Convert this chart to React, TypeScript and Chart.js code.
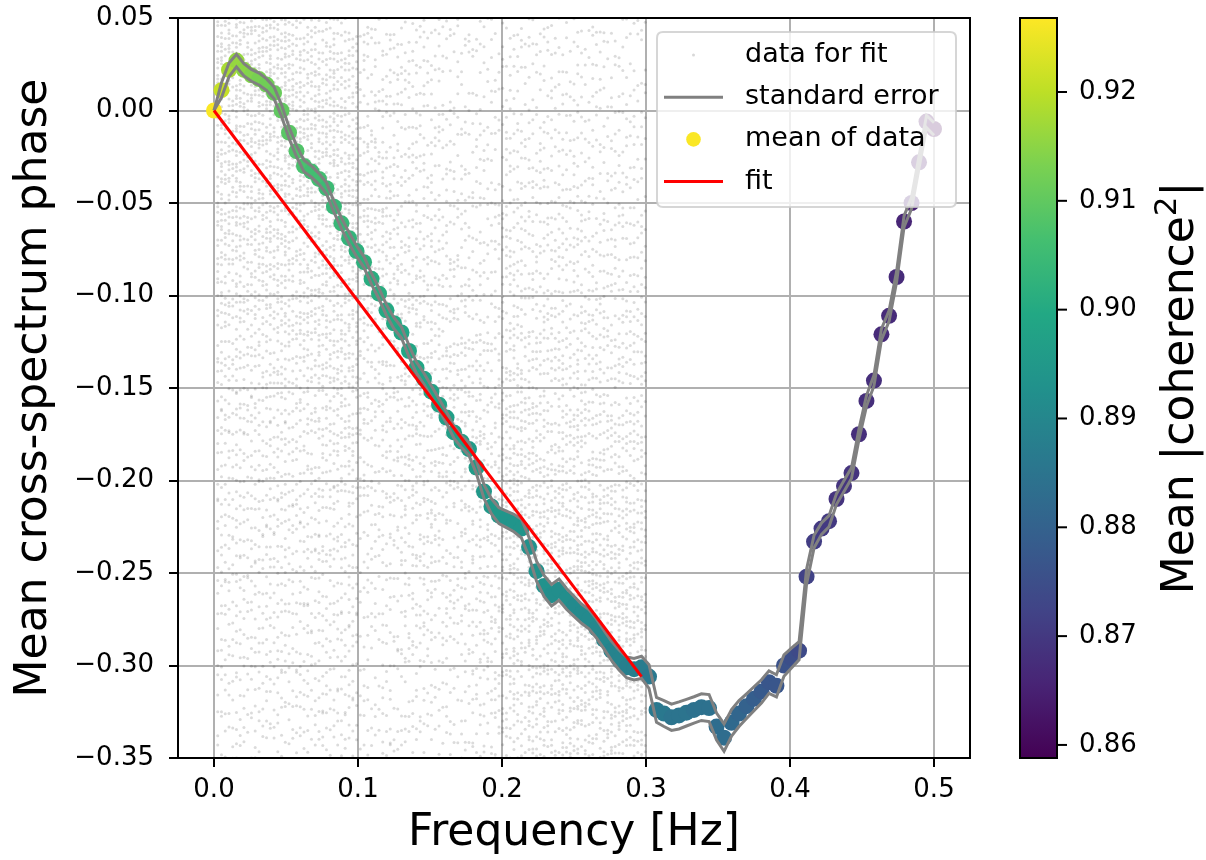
import React, { useEffect, useRef } from 'react';
import { Chart, registerables } from 'chart.js';

Chart.register(...registerables);

const FONT = '"DejaVu Sans", sans-serif';

// Frequency bins of the averaged spectrum [Hz]
const freqs = [
  0.0000, 0.0052, 0.0104, 0.0156, 0.0208, 0.0260, 0.0313, 0.0365, 0.0417, 0.0469,
  0.0521, 0.0573, 0.0625, 0.0677, 0.0729, 0.0781, 0.0833, 0.0885, 0.0938, 0.0990,
  0.1042, 0.1094, 0.1146, 0.1198, 0.1250, 0.1302, 0.1354, 0.1406, 0.1458, 0.1510,
  0.1563, 0.1615, 0.1667, 0.1719, 0.1771, 0.1823, 0.1875, 0.1927, 0.1979, 0.2031,
  0.2083, 0.2135, 0.2188, 0.2240, 0.2292, 0.2344, 0.2396, 0.2448, 0.2500, 0.2552,
  0.2604, 0.2656, 0.2708, 0.2760, 0.2813, 0.2865, 0.2917, 0.2969, 0.3021, 0.3073,
  0.3125, 0.3177, 0.3229, 0.3281, 0.3333, 0.3385, 0.3438, 0.3490, 0.3542, 0.3594,
  0.3646, 0.3698, 0.3750, 0.3802, 0.3854, 0.3906, 0.3958, 0.4010, 0.4063, 0.4115,
  0.4167, 0.4219, 0.4271, 0.4323, 0.4375, 0.4427, 0.4479, 0.4531, 0.4583, 0.4635,
  0.4688, 0.4740, 0.4792, 0.4844, 0.4896, 0.4948, 0.5000,
];

// Mean cross-spectrum phase per bin
const meanPhase = [
  0.000, 0.011, 0.022, 0.027, 0.022, 0.019, 0.017, 0.014, 0.0095, 0.000,
  -0.012, -0.022, -0.030, -0.033, -0.037, -0.042, -0.052, -0.061, -0.069, -0.076,
  -0.082, -0.091, -0.099, -0.108, -0.115, -0.120, -0.130, -0.139, -0.145, -0.152,
  -0.159, -0.166, -0.174, -0.179, -0.183, -0.193, -0.206, -0.214, -0.219, -0.221,
  -0.223, -0.226, -0.236, -0.249, -0.257, -0.262, -0.259, -0.264, -0.268, -0.272,
  -0.275, -0.280, -0.286, -0.292, -0.297, -0.301, -0.302, -0.301, -0.306, -0.324,
  -0.326, -0.328, -0.327, -0.3255, -0.324, -0.3225, -0.323, -0.333, -0.339, -0.331,
  -0.326, -0.322, -0.318, -0.314, -0.309, -0.311, -0.300, -0.296, -0.292, -0.252,
  -0.233, -0.226, -0.222, -0.210, -0.203, -0.196, -0.175, -0.157, -0.146, -0.121,
  -0.111, -0.090, -0.060, -0.050, -0.028, -0.006, -0.010,
];

// Standard error of the mean phase per bin
const stdErr = [
  0.0000, 0.0040, 0.0037, 0.0034, 0.0033, 0.0032, 0.0032, 0.0031, 0.0032, 0.0031,
  0.0031, 0.0030, 0.0031, 0.0030, 0.0029, 0.0030, 0.0029, 0.0029, 0.0030, 0.0029,
  0.0029, 0.0030, 0.0029, 0.0029, 0.0030, 0.0030, 0.0031, 0.0030, 0.0030, 0.0031,
  0.0030, 0.0031, 0.0032, 0.0032, 0.0034, 0.0035, 0.0037, 0.0041, 0.0043, 0.0045,
  0.0047, 0.0050, 0.0052, 0.0054, 0.0057, 0.0058, 0.0057, 0.0056, 0.0054, 0.0052,
  0.0052, 0.0051, 0.0050, 0.0052, 0.0054, 0.0056, 0.0058, 0.0060, 0.0064, 0.0067,
  0.0070, 0.0071, 0.0073, 0.0072, 0.0071, 0.0072, 0.0073, 0.0073, 0.0074, 0.0072,
  0.0070, 0.0067, 0.0065, 0.0063, 0.0061, 0.0060, 0.0058, 0.0054, 0.0049, 0.0040,
  0.0034, 0.0031, 0.0030, 0.0029, 0.0030, 0.0029, 0.0028, 0.0029, 0.0029, 0.0030,
  0.0029, 0.0029, 0.0030, 0.0031, 0.0032, 0.0033, 0.0034,
];

// Mean |coherence^2| per bin (colour of the mean markers)
const meanCoherence = [
  0.9265, 0.921, 0.918, 0.916, 0.915, 0.914, 0.913, 0.912, 0.911, 0.910,
  0.909, 0.908, 0.907, 0.906, 0.906, 0.905, 0.904, 0.904, 0.903, 0.902,
  0.902, 0.901, 0.901, 0.900, 0.900, 0.899, 0.899, 0.899, 0.898, 0.898,
  0.898, 0.897, 0.897, 0.897, 0.896, 0.896, 0.895, 0.895, 0.895, 0.894,
  0.894, 0.894, 0.893, 0.893, 0.893, 0.892, 0.892, 0.892, 0.891, 0.891,
  0.891, 0.890, 0.890, 0.889, 0.889, 0.888, 0.888, 0.887, 0.886, 0.886,
  0.886, 0.885, 0.885, 0.885, 0.884, 0.884, 0.884, 0.883, 0.883, 0.882,
  0.881, 0.880, 0.879, 0.878, 0.877, 0.877, 0.876, 0.875, 0.874, 0.872,
  0.871, 0.870, 0.870, 0.869, 0.869, 0.869, 0.868, 0.868, 0.868, 0.867,
  0.867, 0.867, 0.866, 0.865, 0.863, 0.861, 0.8589,
];

// Linear fit through the origin over the fit band
const fitFreqs = [0.0, 0.2969];
const fitPhase = [0.0, -0.306];

// Frequencies of the individual (finer-resolution) samples used for the fit
const sampleFreqs = [
  0.0026, 0.0052, 0.0078, 0.0104, 0.0130, 0.0156, 0.0182, 0.0208, 0.0234, 0.0260,
  0.0286, 0.0313, 0.0339, 0.0365, 0.0391, 0.0417, 0.0443, 0.0469, 0.0495, 0.0521,
  0.0547, 0.0573, 0.0599, 0.0625, 0.0651, 0.0677, 0.0703, 0.0729, 0.0755, 0.0781,
  0.0807, 0.0833, 0.0859, 0.0885, 0.0911, 0.0938, 0.0964, 0.0990, 0.1016, 0.1042,
  0.1068, 0.1094, 0.1120, 0.1146, 0.1172, 0.1198, 0.1224, 0.1250, 0.1276, 0.1302,
  0.1328, 0.1354, 0.1380, 0.1406, 0.1432, 0.1458, 0.1484, 0.1510, 0.1536, 0.1563,
  0.1589, 0.1615, 0.1641, 0.1667, 0.1693, 0.1719, 0.1745, 0.1771, 0.1797, 0.1823,
  0.1849, 0.1875, 0.1901, 0.1927, 0.1953, 0.1979, 0.2005, 0.2031, 0.2057, 0.2083,
  0.2109, 0.2135, 0.2161, 0.2188, 0.2214, 0.2240, 0.2266, 0.2292, 0.2318, 0.2344,
  0.2370, 0.2396, 0.2422, 0.2448, 0.2474, 0.2500, 0.2526, 0.2552, 0.2578, 0.2604,
  0.2630, 0.2656, 0.2682, 0.2708, 0.2734, 0.2760, 0.2786, 0.2813, 0.2839, 0.2865,
  0.2891, 0.2917, 0.2943, 0.2969, 0.2995,
];

// Individual phase samples around each bin mean (the "data for fit" cloud)
const sampleOffsetsA = [
  0.012, -0.184, 0.231, -0.047, 0.356, -0.291, 0.083, -0.122, 0.169, -0.418,
  0.035, -0.063, 0.274, -0.237, 0.114, -0.009, 0.492, -0.152, 0.058, -0.336,
  0.197, -0.094, 0.021, -0.478, 0.143, -0.205, 0.318, -0.028, 0.071, -0.265,
  0.412, -0.111, 0.004, -0.371, 0.251, -0.071, 0.128, -0.542, 0.046, -0.168,
  0.383, -0.019, 0.097, -0.311, 0.213, -0.138, 0.532, -0.055, 0.162, -0.249,
  0.029, -0.397, 0.297, -0.084, 0.066, -0.196, 0.445, -0.036, 0.182, -0.458,
  0.089, -0.221, 0.338, -0.013, 0.136, -0.354, 0.263, -0.102, 0.017, -0.283,
];
const sampleOffsetsB = [
  -0.006, 0.147, -0.327, 0.052, -0.213, 0.402, -0.091, 0.024, -0.446, 0.179,
  -0.038, 0.287, -0.158, 0.069, -0.509, 0.118, -0.272, 0.008, 0.361, -0.127,
  0.041, -0.389, 0.223, -0.066, 0.472, -0.177, 0.093, -0.024, -0.303, 0.155,
  -0.081, 0.329, -0.233, 0.015, 0.511, -0.145, 0.061, -0.421, 0.206, -0.052,
  0.107, -0.349, 0.267, -0.015, -0.191, 0.431, -0.104, 0.037, -0.258, 0.174,
  -0.468, 0.079, 0.303, -0.119, 0.006, -0.222, 0.389, -0.073, 0.124, -0.316,
  0.241, -0.034, -0.147, 0.459, -0.098, 0.049, -0.378, 0.189, -0.061, 0.133,
];
const columnSpread = [1.0, 0.83, 1.17, 0.91, 1.26, 0.77, 1.08, 0.95, 1.21, 0.87, 1.12, 0.98, 1.15];
const columnShift = [0.0, 0.011, -0.017, 0.006, 0.021, -0.009, -0.024, 0.014, -0.003, 0.019, -0.013];
// share of samples kept per 0.05 Hz band (denser at low frequency)
const bandDensity = [1.0, 0.9, 0.6, 0.55, 0.8, 0.85];

// Colour bar
const cbMin = 0.8588;
const cbMax = 0.9268;
const cbTicks = [0.86, 0.87, 0.88, 0.89, 0.90, 0.91, 0.92];

const viridisStops = [
  '#440154', '#482475', '#414487', '#355f8d', '#2a788e', '#21918c',
  '#22a884', '#44bf70', '#7ad151', '#bddf26', '#fde725',
];

const hexRgb = (h: string) => [
  parseInt(h.slice(1, 3), 16),
  parseInt(h.slice(3, 5), 16),
  parseInt(h.slice(5, 7), 16),
];

function viridis(t: number): string {
  const tt = Math.max(0, Math.min(1, t));
  const n = viridisStops.length - 1;
  const p = tt * n;
  const i = Math.min(Math.floor(p), n - 1);
  const f = p - i;
  const a = hexRgb(viridisStops[i]);
  const b = hexRgb(viridisStops[i + 1]);
  const c = a.map((v, k) => Math.round(v + (b[k] - v) * f));
  return `rgb(${c[0]},${c[1]},${c[2]})`;
}

const cohColor = (v: number) => viridis((v - cbMin) / (cbMax - cbMin));

const framePlugin = {
  id: 'frameAndDecor',
  afterDraw(chart: any) {
    const { ctx, chartArea } = chart;
    const { left, right, top, bottom } = chartArea;
    ctx.save();
    // axes frame
    ctx.strokeStyle = '#000';
    ctx.lineWidth = 2;
    ctx.strokeRect(left, top, right - left, bottom - top);

    // ---- colour bar ----
    const cbL = right + 50;
    const cbW = 37;
    const cbT = top;
    const cbB = bottom;
    const grad = ctx.createLinearGradient(0, cbB, 0, cbT);
    viridisStops.forEach((c, i) => grad.addColorStop(i / (viridisStops.length - 1), c));
    ctx.fillStyle = grad;
    ctx.fillRect(cbL, cbT, cbW, cbB - cbT);
    ctx.lineWidth = 2;
    ctx.strokeStyle = '#000';
    ctx.strokeRect(cbL, cbT, cbW, cbB - cbT);
    ctx.font = `26px ${FONT}`;
    ctx.fillStyle = '#000';
    ctx.textAlign = 'left';
    ctx.textBaseline = 'middle';
    cbTicks.forEach((v) => {
      const y = cbB - ((v - cbMin) / (cbMax - cbMin)) * (cbB - cbT);
      ctx.beginPath();
      ctx.moveTo(cbL + cbW, y);
      ctx.lineTo(cbL + cbW + 10, y);
      ctx.stroke();
      ctx.fillText(v.toFixed(2), cbL + cbW + 22, y);
    });
    // colour bar title (rotated, with superscript)
    ctx.save();
    ctx.translate(cbL + cbW + 121, (cbT + cbB) / 2);
    ctx.rotate(-Math.PI / 2);
    const partA = 'Mean |coherence';
    const partSup = '2';
    const partC = '|';
    ctx.textBaseline = 'alphabetic';
    ctx.font = `44px ${FONT}`;
    const wA = ctx.measureText(partA).width;
    const wC = ctx.measureText(partC).width;
    ctx.font = `31px ${FONT}`;
    const wS = ctx.measureText(partSup).width;
    let x = -(wA + wS + wC) / 2;
    const base = 15;
    ctx.font = `44px ${FONT}`;
    ctx.fillText(partA, x, base);
    x += wA;
    ctx.font = `31px ${FONT}`;
    ctx.fillText(partSup, x, base - 17);
    x += wS;
    ctx.font = `44px ${FONT}`;
    ctx.fillText(partC, x, base);
    ctx.restore();

    // ---- legend ----
    const lgR = right - 14;
    const lgT = top + 14;
    const lgW = 299;
    const lgH = 175;
    const lgL = lgR - lgW;
    const r = 6;
    ctx.beginPath();
    ctx.moveTo(lgL + r, lgT);
    ctx.lineTo(lgR - r, lgT);
    ctx.quadraticCurveTo(lgR, lgT, lgR, lgT + r);
    ctx.lineTo(lgR, lgT + lgH - r);
    ctx.quadraticCurveTo(lgR, lgT + lgH, lgR - r, lgT + lgH);
    ctx.lineTo(lgL + r, lgT + lgH);
    ctx.quadraticCurveTo(lgL, lgT + lgH, lgL, lgT + lgH - r);
    ctx.lineTo(lgL, lgT + r);
    ctx.quadraticCurveTo(lgL, lgT, lgL + r, lgT);
    ctx.closePath();
    ctx.fillStyle = 'rgba(255,255,255,0.8)';
    ctx.fill();
    ctx.strokeStyle = 'rgba(204,204,204,0.8)';
    ctx.lineWidth = 2;
    ctx.stroke();

    const items = [
      { label: 'data for fit', kind: 'tiny', color: 'rgba(60,60,60,0.2)' },
      { label: 'standard error', kind: 'line', color: '#808080' },
      { label: 'mean of data', kind: 'dot', color: cohColor(meanCoherence[0]) },
      { label: 'fit', kind: 'line', color: '#ff0000' },
    ];
    items.forEach((it, i) => {
      const y = lgT + 23 + i * 42.2;
      const hx0 = lgL + 7;
      const hx1 = lgL + 66;
      const hc = (hx0 + hx1) / 2;
      if (it.kind === 'line') {
        ctx.strokeStyle = it.color;
        ctx.lineWidth = 3;
        ctx.beginPath();
        ctx.moveTo(hx0, y);
        ctx.lineTo(hx1, y);
        ctx.stroke();
      } else if (it.kind === 'dot') {
        ctx.fillStyle = it.color;
        ctx.beginPath();
        ctx.arc(hc, y, 7.3, 0, Math.PI * 2);
        ctx.fill();
      } else {
        ctx.fillStyle = it.color;
        ctx.beginPath();
        ctx.arc(hc, y, 1.5, 0, Math.PI * 2);
        ctx.fill();
      }
      ctx.fillStyle = '#000';
      ctx.font = `27px ${FONT}`;
      ctx.textAlign = 'left';
      ctx.textBaseline = 'middle';
      ctx.fillText(it.label, lgL + 88, y);
    });
    ctx.restore();
  },
};

export default function App() {
  const ref = useRef<HTMLCanvasElement>(null);

  useEffect(() => {
    const canvas = ref.current;
    if (!canvas) return;

    const cloud: { x: number; y: number }[] = [];
    const allOffsets = sampleOffsetsA.concat(sampleOffsetsB);
    sampleFreqs.forEach((f, k) => {
      const bin = Math.min(freqs.length - 1, Math.round(f / freqs[1]));
      const s = columnSpread[k % columnSpread.length];
      const sh = columnShift[k % columnShift.length];
      const band = Math.min(bandDensity.length - 1, Math.floor(f / 0.05));
      const n = Math.round(allOffsets.length * bandDensity[band]);
      for (let j = 0; j < n; j++) {
        const d = allOffsets[(j + 7 * k) % allOffsets.length];
        cloud.push({ x: f, y: meanPhase[bin] + sh + d * s });
      }
    });

    const meanPts = freqs.map((f, i) => ({ x: f, y: meanPhase[i] }));
    const upper = freqs.map((f, i) => ({ x: f, y: meanPhase[i] + stdErr[i] }));
    const lower = freqs.map((f, i) => ({ x: f, y: meanPhase[i] - stdErr[i] }));
    const fitLine = fitFreqs.map((f, i) => ({ x: f, y: fitPhase[i] }));
    const meanColors = meanCoherence.map(cohColor);

    const tickFont = { family: FONT, size: 26 };
    const titleFont = { family: FONT, size: 44, lineHeight: 1.2 };

    const chart = new Chart(canvas, {
      type: 'scatter',
      data: {
        datasets: [
          {
            label: 'data for fit',
            data: cloud,
            pointRadius: 1.5,
            pointBorderWidth: 0,
            pointBackgroundColor: 'rgba(30,30,30,0.16)',
            order: 5,
            clip: 0,
          } as any,
          {
            label: 'mean of data',
            data: meanPts,
            pointRadius: 8,
            pointBorderWidth: 0,
            pointBackgroundColor: meanColors,
            order: 4,
            clip: 0,
          } as any,
          {
            label: 'standard error',
            data: upper,
            showLine: true,
            borderColor: '#808080',
            borderWidth: 3,
            pointRadius: 0,
            order: 3,
            clip: 0,
          } as any,
          {
            label: 'standard error',
            data: lower,
            showLine: true,
            borderColor: '#808080',
            borderWidth: 3,
            pointRadius: 0,
            order: 2,
            clip: 0,
          } as any,
          {
            label: 'fit',
            data: fitLine,
            showLine: true,
            borderColor: '#ff0000',
            borderWidth: 3,
            pointRadius: 0,
            order: 1,
            clip: 0,
          } as any,
        ],
      },
      options: {
        animation: false,
        responsive: false,
        devicePixelRatio: 1,
        events: [],
        layout: { padding: { left: 0, top: 18, right: 236, bottom: 0 } },
        plugins: {
          legend: { display: false },
          tooltip: { enabled: false },
        },
        scales: {
          x: {
            type: 'linear',
            min: -0.025,
            max: 0.525,
            afterFit: (s: any) => {
              s.height = 102;
              s.paddingLeft = 0;
              s.paddingRight = 0;
            },
            ticks: {
              stepSize: 0.1,
              includeBounds: false,
              autoSkip: false,
              maxRotation: 0,
              font: tickFont,
              color: '#000',
              padding: 8,
              callback: (v: any) => Number(v).toFixed(1),
            },
            grid: {
              color: '#b0b0b0',
              lineWidth: 2,
              tickColor: '#000',
              tickLength: 9,
              tickWidth: 2,
            },
            border: { display: true, color: '#000', width: 2 },
            title: {
              display: true,
              text: 'Frequency [Hz]',
              font: titleFont,
              color: '#000',
              padding: 0,
            },
          },
          y: {
            type: 'linear',
            min: -0.35,
            max: 0.05,
            afterFit: (s: any) => {
              s.width = 178;
              s.paddingTop = 0;
              s.paddingBottom = 0;
            },
            ticks: {
              stepSize: 0.05,
              includeBounds: false,
              autoSkip: false,
              font: tickFont,
              color: '#000',
              padding: 15,
              callback: (v: any) => {
                const n = Number(v);
                if (Math.abs(n) < 1e-9) return '0.00';
                return n.toFixed(2).replace('-', '\u2212');
              },
            },
            grid: {
              color: '#b0b0b0',
              lineWidth: 2,
              tickColor: '#000',
              tickLength: 9,
              tickWidth: 2,
            },
            border: { display: true, color: '#000', width: 2 },
            title: {
              display: true,
              text: 'Mean cross-spectrum phase',
              font: titleFont,
              color: '#000',
              padding: { top: 8, bottom: 0 },
            },
          },
        },
      },
      plugins: [framePlugin],
    } as any);

    return () => chart.destroy();
  }, []);

  return (
    <div style={{ position: 'absolute', left: 0, top: 0, width: 1206, height: 860, background: '#fff' }}>
      <canvas ref={ref} width={1206} height={860} style={{ display: 'block', width: 1206, height: 860 }} />
    </div>
  );
}
